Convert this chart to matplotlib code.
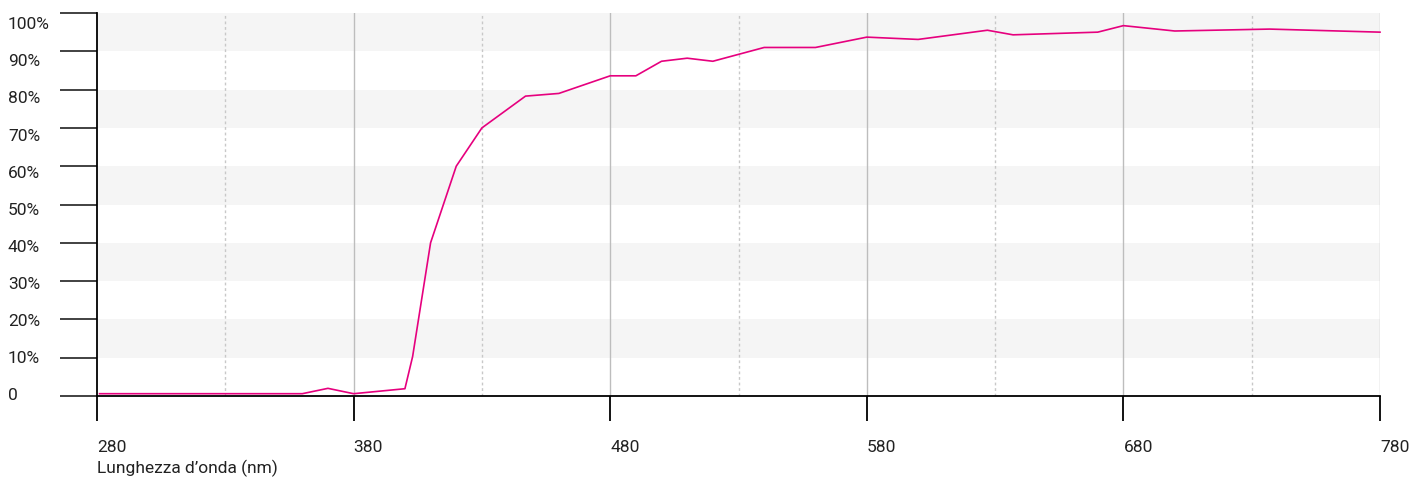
import numpy as np
import matplotlib.pyplot as plt
import matplotlib.transforms as mtransforms

# dati
wavelength = [281, 360, 370, 380, 400, 403, 410, 420, 430, 447, 460, 480, 490,
              500, 510, 520, 540, 560, 580, 600, 627, 637, 670, 680, 700, 737, 780]
transmission = [0.6, 0.6, 2.0, 0.6, 1.9, 10.3, 40.0, 60.0, 70.0, 78.3, 79.0, 83.6, 83.6,
                87.4, 88.2, 87.4, 91.0, 91.0, 93.7, 93.1, 95.5, 94.3, 95.0, 96.7, 95.3, 95.8, 95.0]

x_ticks = [280, 380, 480, 580, 680, 780]
x_minor = [330, 430, 530, 630, 730]
y_ticks = [0, 10, 20, 30, 40, 50, 60, 70, 80, 90, 100]
y_labels = ['0', '10%', '20%', '30%', '40%', '50%', '60%', '70%', '80%', '90%', '100%']

plt.rcParams['font.family'] = ['Roboto', 'DejaVu Sans']
FS = 12.5
TXT = '#222222'

fig = plt.figure(figsize=(14.10, 4.81), dpi=100, facecolor='white')
ax = fig.add_axes([97 / 1410, 84 / 481, (1380 - 97) / 1410, (467 - 84) / 481])
ax.set_xlim(280, 780)
ax.set_ylim(0, 100)

# bande grigie alternate
for lo in range(10, 100, 20):
    ax.axhspan(lo, lo + 10, color='#f5f5f5', lw=0, zorder=0)

# griglia verticale
for xv in x_ticks[1:]:
    ax.axvline(xv, color='#bdbdbd', lw=1, zorder=1)
for xv in x_minor:
    ax.axvline(xv, color='#c8c8c8', lw=1, ls=(0, (2, 2)), zorder=1)

ax.plot(wavelength, transmission, color='#e6007e', lw=1.2, zorder=3, clip_on=False)

# assi
for s in ['top', 'right']:
    ax.spines[s].set_visible(False)
for s in ['left', 'bottom']:
    ax.spines[s].set_linewidth(1.3)
    ax.spines[s].set_color('black')

ax.set_xticks(x_ticks)
ax.set_xticklabels([])
ax.tick_params(axis='x', direction='out', length=18, width=1.3, color='black')
ax.set_yticks(y_ticks)
ax.set_yticklabels([])
ax.tick_params(axis='y', direction='out', length=26.6, width=1.3, color='#333333')

# etichette x (allineate a sinistra sul tick)
tx = mtransforms.blended_transform_factory(ax.transData, fig.transFigure)
for v in x_ticks:
    ax.text(v, 1 - 452.3 / 481, str(v), transform=tx, ha='left', va='baseline',
            fontsize=FS, color=TXT, clip_on=False)

# etichette y, spaziate come nell'originale
ty = mtransforms.blended_transform_factory(fig.transFigure, ax.transData)
for v, lab in zip(y_ticks, y_labels):
    ax.text(8 / 1410, -0.86 + 0.9687 * v, lab, transform=ty, ha='left', va='baseline',
            fontsize=FS, color=TXT, clip_on=False)

fig.text(97 / 1410, 1 - 473.3 / 481, 'Lunghezza d\u2019onda (nm)', ha='left', va='baseline',
         fontsize=FS, color=TXT)

fig.savefig('out.png', dpi=100, facecolor='white')
